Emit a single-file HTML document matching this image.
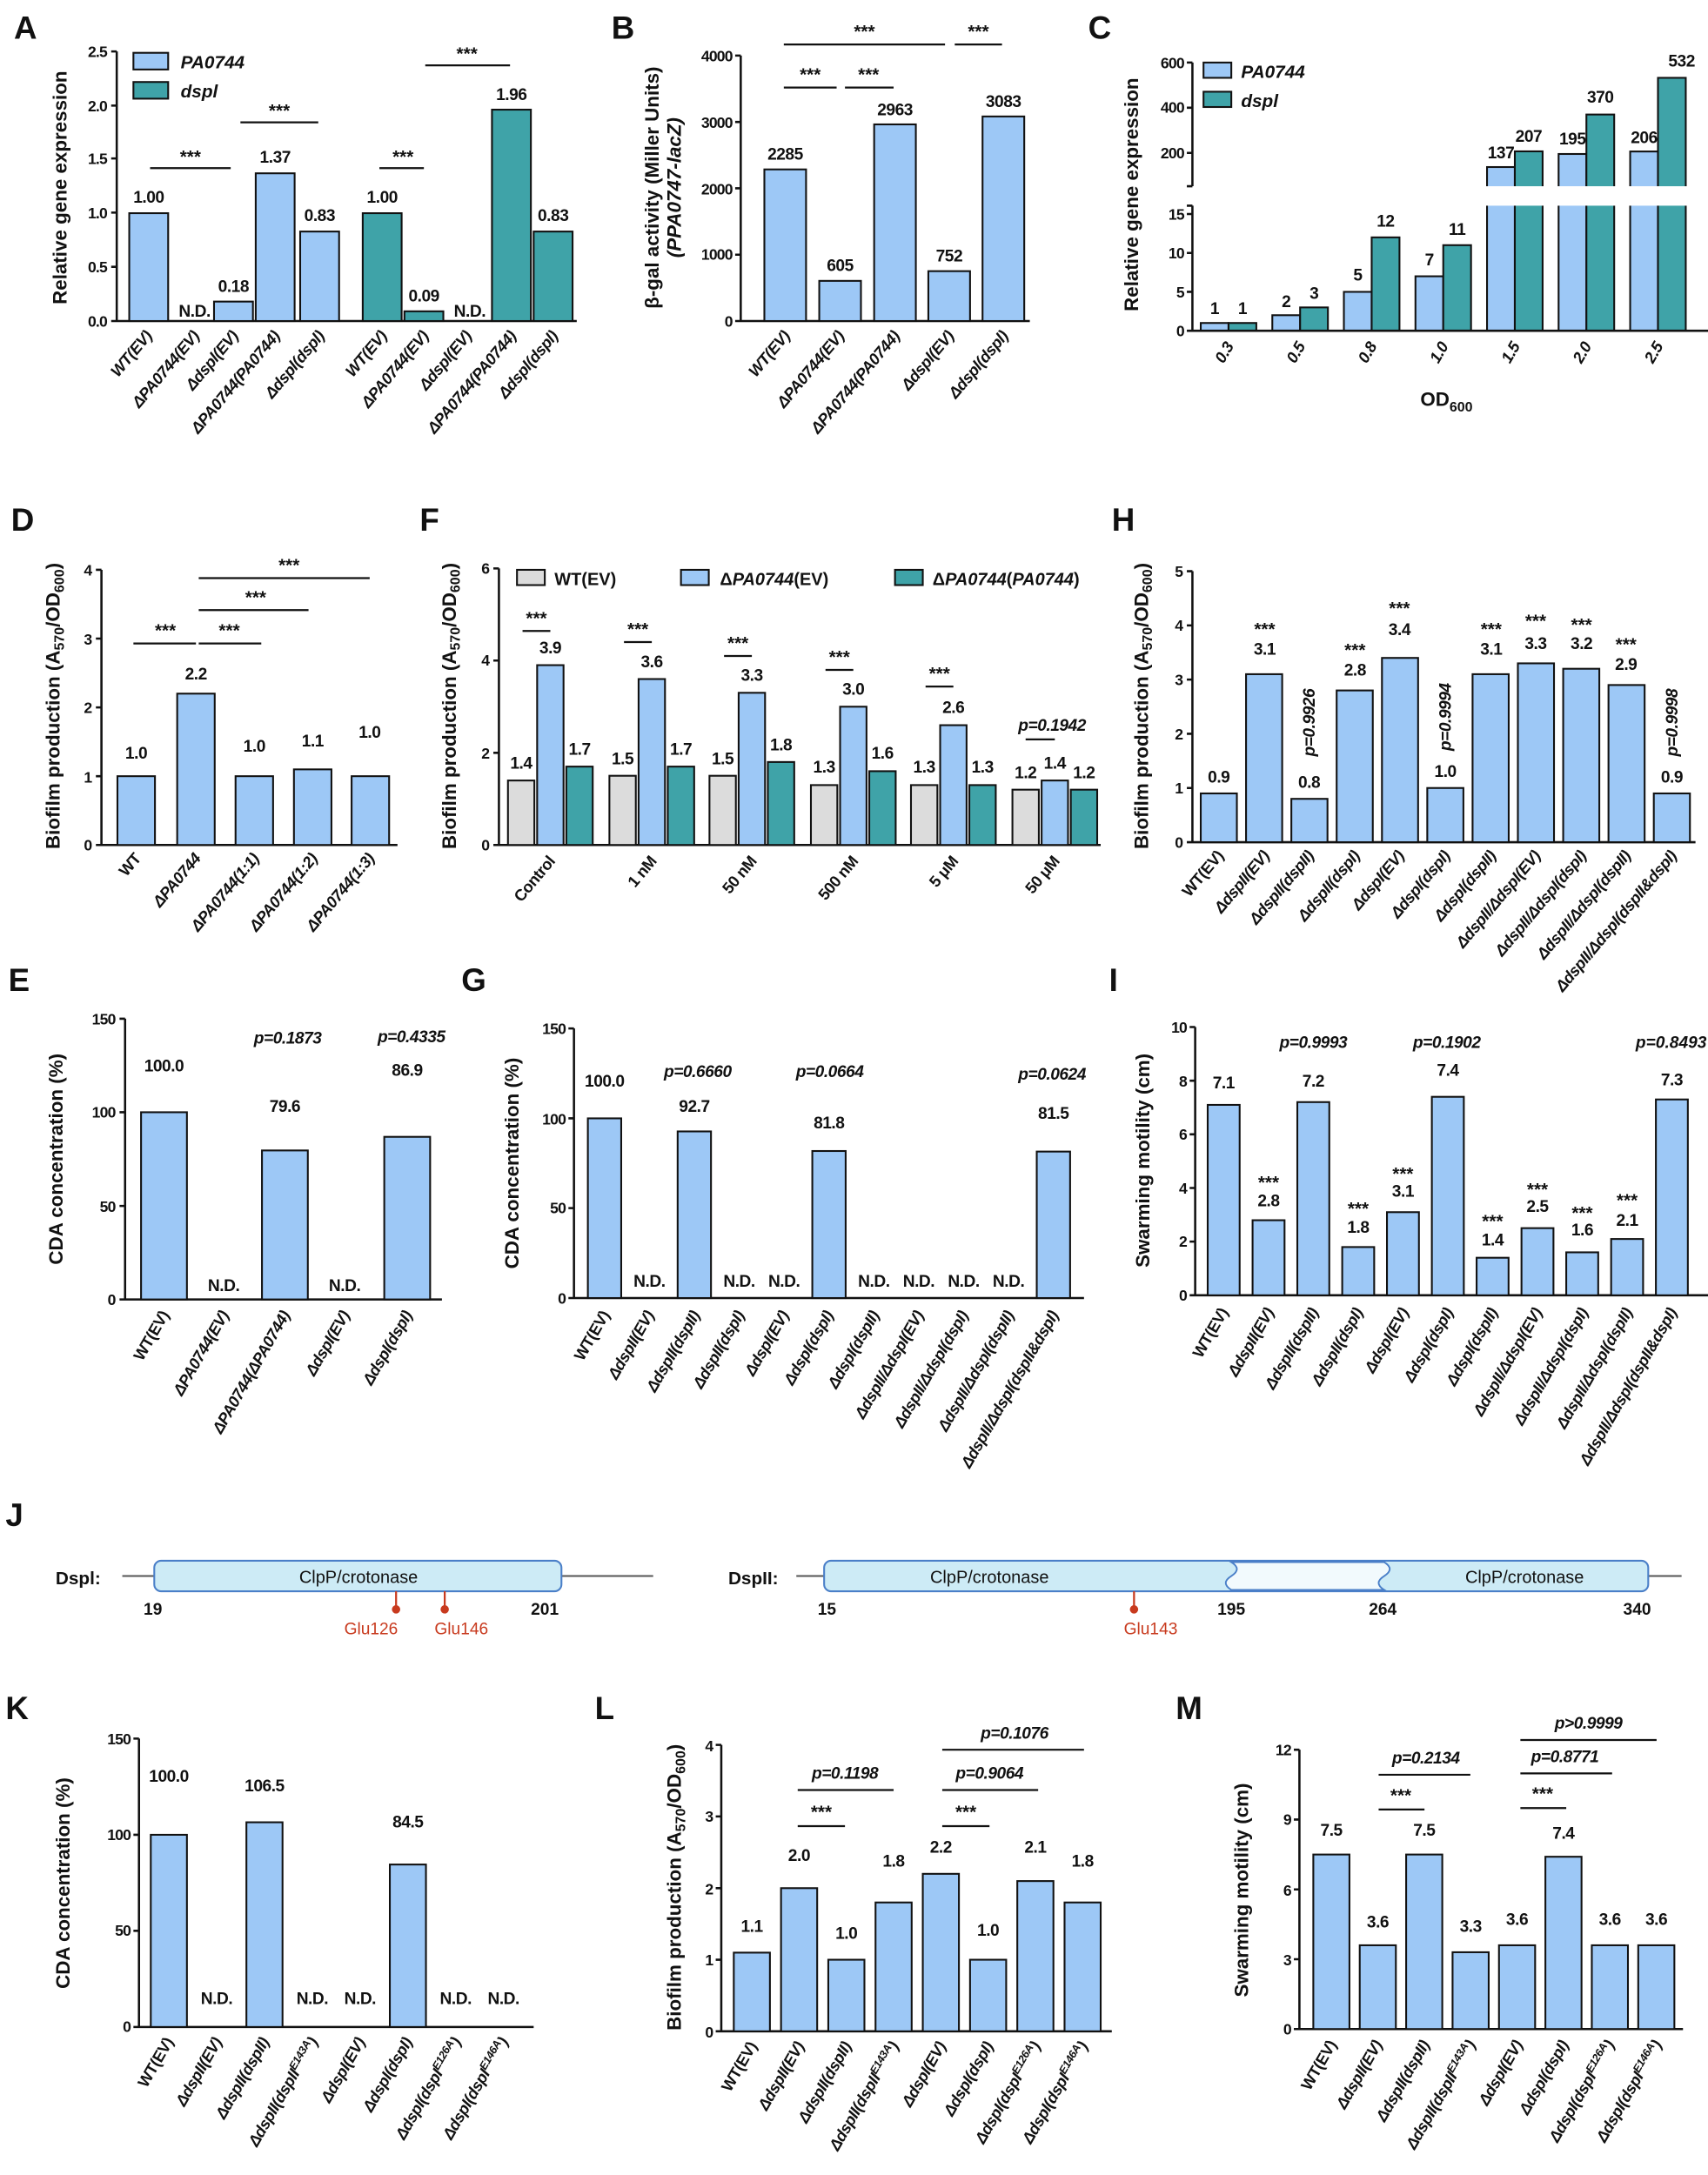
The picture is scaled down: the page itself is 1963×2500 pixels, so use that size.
<!DOCTYPE html>
<html><head><meta charset="utf-8"><style>
html,body{margin:0;padding:0;background:#fff}
svg{display:block}
text{font-family:"Liberation Sans",sans-serif;font-weight:bold;fill:#111}
.bb{fill:#9DC8F6;stroke:#111;stroke-width:1.3}
.tb{fill:#3FA3A8;stroke:#111;stroke-width:1.3}
.gb{fill:#DCDCDC;stroke:#111;stroke-width:1.3}
.ax{stroke:#111;stroke-width:1.6;fill:none}
.v{font-size:12px;text-anchor:middle;letter-spacing:-0.3px}
.t{font-size:11px;text-anchor:end;letter-spacing:-0.5px}
.x{font-size:11.5px;text-anchor:end;font-style:italic;letter-spacing:-0.3px}
.y{font-size:14px;text-anchor:middle}
.L{font-size:23px}
.s{font-size:13px;text-anchor:middle}
.ln{stroke:#111;stroke-width:1.4}
</style></head><body>
<svg width="1963" height="2500" viewBox="0 0 1229 1565" preserveAspectRatio="none" xmlns="http://www.w3.org/2000/svg">
<rect width="1229" height="1565" fill="#fff"/>
<!-- ===== A ===== -->
<text class="L" x="10" y="28">A</text>
<text class="y" transform="translate(48,135) rotate(-90)">Relative gene expression</text>
<path class="ax" d="M84,37V231H415M80,37H84M80,76H84M80,114H84M80,153H84M80,192H84M80,231H84"/>
<text class="t" x="77" y="41">2.5</text><text class="t" x="77" y="80">2.0</text><text class="t" x="77" y="118">1.5</text><text class="t" x="77" y="157">1.0</text><text class="t" x="77" y="196">0.5</text><text class="t" x="77" y="235">0.0</text>
<rect class="bb" x="93" y="153.4" width="28" height="77.6"/><rect class="bb" x="154" y="217" width="28" height="14"/><rect class="bb" x="184" y="124.7" width="28" height="106.3"/><rect class="bb" x="216" y="166.6" width="28" height="64.4"/>
<rect class="tb" x="261" y="153.4" width="28" height="77.6"/><rect class="tb" x="291" y="224" width="28" height="7"/><rect class="tb" x="354" y="78.9" width="28" height="152.1"/><rect class="tb" x="384" y="166.6" width="28" height="64.4"/>
<text class="v" x="107" y="146">1.00</text><text class="v" x="140" y="228">N.D.</text><text class="v" x="168" y="210">0.18</text><text class="v" x="198" y="117">1.37</text><text class="v" x="230" y="159">0.83</text>
<text class="v" x="275" y="146">1.00</text><text class="v" x="305" y="217">0.09</text><text class="v" x="338" y="228">N.D.</text><text class="v" x="368" y="72">1.96</text><text class="v" x="398" y="159">0.83</text>
<rect class="bb" x="96" y="38" width="25" height="12"/><text x="130" y="49" style="font-size:13px;font-style:italic">PA0744</text>
<rect class="tb" x="96" y="59" width="25" height="12"/><text x="130" y="70" style="font-size:13px;font-style:italic">dspl</text>
<line class="ln" x1="108" y1="121" x2="166" y2="121"/><text class="s" x="137" y="117">***</text>
<line class="ln" x1="173" y1="88" x2="229" y2="88"/><text class="s" x="201" y="84">***</text>
<line class="ln" x1="273" y1="121" x2="305" y2="121"/><text class="s" x="290" y="117">***</text>
<line class="ln" x1="306" y1="47" x2="367" y2="47"/><text class="s" x="336" y="43">***</text>
<text class="x" transform="translate(110,242) rotate(-50)">WT(EV)</text><text class="x" transform="translate(144,242) rotate(-50)">ΔPA0744(EV)</text><text class="x" transform="translate(172,242) rotate(-50)">Δdspl(EV)</text><text class="x" transform="translate(202,242) rotate(-50)">ΔPA0744(PA0744)</text><text class="x" transform="translate(234,242) rotate(-50)">Δdspl(dspl)</text>
<text class="x" transform="translate(279,242) rotate(-50)">WT(EV)</text><text class="x" transform="translate(309,242) rotate(-50)">ΔPA0744(EV)</text><text class="x" transform="translate(340,242) rotate(-50)">Δdspl(EV)</text><text class="x" transform="translate(372,242) rotate(-50)">ΔPA0744(PA0744)</text><text class="x" transform="translate(402,242) rotate(-50)">Δdspl(dspl)</text>
<!-- ===== B ===== -->
<text class="L" x="440" y="28">B</text>
<text class="y" transform="translate(474,135) rotate(-90)">β-gal activity (Miller Units)</text>
<text class="y" transform="translate(490,135) rotate(-90)" style="font-style:italic">(PPA0747-lacZ)</text>
<path class="ax" d="M533,40V231H741M529,40H533M529,87.75H533M529,135.5H533M529,183.25H533M529,231H533"/>
<text class="t" x="527" y="44">4000</text><text class="t" x="527" y="92">3000</text><text class="t" x="527" y="140">2000</text><text class="t" x="527" y="187">1000</text><text class="t" x="527" y="235">0</text>
<rect class="bb" x="550" y="121.9" width="30" height="109.1"/><rect class="bb" x="589.5" y="202.1" width="30" height="28.9"/><rect class="bb" x="629" y="89.5" width="30" height="141.5"/><rect class="bb" x="668" y="195.1" width="30" height="35.9"/><rect class="bb" x="707" y="83.8" width="30" height="147.2"/>
<text class="v" x="565" y="115">2285</text><text class="v" x="604.5" y="195">605</text><text class="v" x="644" y="83">2963</text><text class="v" x="683" y="188">752</text><text class="v" x="722" y="77">3083</text>
<line class="ln" x1="564" y1="63" x2="602" y2="63"/><text class="s" x="583" y="58">***</text>
<line class="ln" x1="608" y1="63" x2="643" y2="63"/><text class="s" x="625" y="58">***</text>
<line class="ln" x1="564" y1="32" x2="680" y2="32"/><text class="s" x="622" y="27">***</text>
<line class="ln" x1="687" y1="32" x2="721" y2="32"/><text class="s" x="704" y="27">***</text>
<text class="x" transform="translate(569,242) rotate(-50)">WT(EV)</text><text class="x" transform="translate(608,242) rotate(-50)">ΔPA0744(EV)</text><text class="x" transform="translate(648,242) rotate(-50)">ΔPA0744(PA0744)</text><text class="x" transform="translate(687,242) rotate(-50)">Δdspl(EV)</text><text class="x" transform="translate(726,242) rotate(-50)">Δdspl(dspl)</text>
<!-- ===== C ===== -->
<text class="L" x="783" y="28">C</text>
<text class="y" transform="translate(819,140) rotate(-90)">Relative gene expression</text>
<rect class="bb" x="864" y="232.4" width="20" height="5.6"/><rect class="tb" x="884" y="232.4" width="20" height="5.6"/>
<rect class="bb" x="915.5" y="226.8" width="20" height="11.2"/><rect class="tb" x="935.5" y="221.2" width="20" height="16.8"/>
<rect class="bb" x="967" y="210" width="20" height="28"/><rect class="tb" x="987" y="170.8" width="20" height="67.2"/>
<rect class="bb" x="1018.5" y="198.8" width="20" height="39.2"/><rect class="tb" x="1038.5" y="176.4" width="20" height="61.6"/>
<rect class="bb" x="1070" y="120.2" width="20" height="117.8"/><rect class="tb" x="1090" y="108.9" width="20" height="129.1"/>
<rect class="bb" x="1121.5" y="110.8" width="20" height="127.2"/><rect class="tb" x="1141.5" y="82.4" width="20" height="155.6"/>
<rect class="bb" x="1173" y="109" width="20" height="129"/><rect class="tb" x="1193" y="56" width="20" height="182"/>
<rect x="1065" y="134" width="164" height="14" fill="#fff"/>
<path class="ax" d="M858,45V134M858,148V238H1229M854,45H858M854,77.5H858M854,110H858M854,134H858M854,148H858M854,154H858M854,182H858M854,210H858M854,238H858"/>
<text class="t" x="852" y="49">600</text><text class="t" x="852" y="81">400</text><text class="t" x="852" y="114">200</text><text class="t" x="852" y="158">15</text><text class="t" x="852" y="186">10</text><text class="t" x="852" y="214">5</text><text class="t" x="852" y="242">0</text>
<text class="v" x="874" y="226">1</text><text class="v" x="894" y="226">1</text><text class="v" x="925.5" y="221">2</text><text class="v" x="945.5" y="215">3</text><text class="v" x="977" y="202">5</text><text class="v" x="997" y="163">12</text><text class="v" x="1028.5" y="191">7</text><text class="v" x="1048.5" y="169">11</text>
<text class="v" x="1080" y="114">137</text><text class="v" x="1100" y="102">207</text><text class="v" x="1131.5" y="104">195</text><text class="v" x="1151.5" y="74">370</text><text class="v" x="1183" y="103">206</text><text class="v" x="1210" y="48">532</text>
<rect class="bb" x="866" y="45" width="20" height="11"/><text x="893" y="56" style="font-size:13px;font-style:italic">PA0744</text>
<rect class="tb" x="866" y="66" width="20" height="11"/><text x="893" y="77" style="font-size:13px;font-style:italic">dspl</text>
<text class="x" transform="translate(888,249) rotate(-60)" style="font-style:italic">0.3</text><text class="x" transform="translate(939.5,249) rotate(-60)">0.5</text><text class="x" transform="translate(991,249) rotate(-60)">0.8</text><text class="x" transform="translate(1042.5,249) rotate(-60)">1.0</text><text class="x" transform="translate(1094,249) rotate(-60)">1.5</text><text class="x" transform="translate(1145.5,249) rotate(-60)">2.0</text><text class="x" transform="translate(1197,249) rotate(-60)">2.5</text>
<text x="1022" y="292" style="font-size:14px">OD<tspan style="font-size:10px" dy="4">600</tspan></text>
<!-- ===== D ===== -->
<text class="L" x="8" y="382">D</text>
<text class="y" transform="translate(43,508) rotate(-90)">Biofilm production (A<tspan style="font-size:10px" dy="3">570</tspan><tspan dy="-3">/OD</tspan><tspan style="font-size:10px" dy="3">600</tspan><tspan dy="-3">)</tspan></text>
<path class="ax" d="M73,410V608H286M69,410H73M69,459.5H73M69,509H73M69,558.5H73M69,608H73"/>
<text class="t" x="66" y="414">4</text><text class="t" x="66" y="464">3</text><text class="t" x="66" y="513">2</text><text class="t" x="66" y="563">1</text><text class="t" x="66" y="612">0</text>
<rect class="bb" x="84.5" y="558.5" width="27" height="49.5"/><rect class="bb" x="127.5" y="499.1" width="27" height="108.9"/><rect class="bb" x="169.5" y="558.5" width="27" height="49.5"/><rect class="bb" x="211.5" y="553.6" width="27" height="54.4"/><rect class="bb" x="253" y="558.5" width="27" height="49.5"/>
<text class="v" x="98" y="546">1.0</text><text class="v" x="141" y="489">2.2</text><text class="v" x="183" y="541">1.0</text><text class="v" x="225" y="537">1.1</text><text class="v" x="266" y="531">1.0</text>
<line class="ln" x1="96" y1="463" x2="141" y2="463"/><text class="s" x="119" y="458">***</text>
<line class="ln" x1="143" y1="463" x2="188" y2="463"/><text class="s" x="165" y="458">***</text>
<line class="ln" x1="143" y1="439" x2="222" y2="439"/><text class="s" x="184" y="434">***</text>
<line class="ln" x1="143" y1="416" x2="266" y2="416"/><text class="s" x="208" y="411">***</text>
<text class="x" transform="translate(102,618) rotate(-50)" style="font-style:normal">WT</text><text class="x" transform="translate(145,618) rotate(-50)">ΔPA0744</text><text class="x" transform="translate(187,618) rotate(-50)">ΔPA0744(1:1)</text><text class="x" transform="translate(229,618) rotate(-50)">ΔPA0744(1:2)</text><text class="x" transform="translate(270,618) rotate(-50)">ΔPA0744(1:3)</text>
<!-- ===== F ===== -->
<text class="L" x="302" y="382">F</text>
<text class="y" transform="translate(328,508) rotate(-90)">Biofilm production (A<tspan style="font-size:10px" dy="3">570</tspan><tspan dy="-3">/OD</tspan><tspan style="font-size:10px" dy="3">600</tspan><tspan dy="-3">)</tspan></text>
<path class="ax" d="M359,409V608H792M355,409H359M355,475.3H359M355,541.7H359M355,608H359"/>
<text class="t" x="352" y="413">6</text><text class="t" x="352" y="479">4</text><text class="t" x="352" y="546">2</text><text class="t" x="352" y="612">0</text>
<rect class="gb" x="365.5" y="561.6" width="19" height="46.4"/><rect class="bb" x="386.5" y="478.6" width="19" height="129.4"/><rect class="tb" x="407.5" y="551.6" width="19" height="56.4"/>
<rect class="gb" x="438.5" y="558.2" width="19" height="49.8"/><rect class="bb" x="459.5" y="488.6" width="19" height="119.4"/><rect class="tb" x="480.5" y="551.6" width="19" height="56.4"/>
<rect class="gb" x="510.5" y="558.2" width="19" height="49.8"/><rect class="bb" x="531.5" y="498.5" width="19" height="109.5"/><rect class="tb" x="552.5" y="548.3" width="19" height="59.7"/>
<rect class="gb" x="583.5" y="564.9" width="19" height="43.1"/><rect class="bb" x="604.5" y="508.5" width="19" height="99.5"/><rect class="tb" x="625.5" y="554.9" width="19" height="53.1"/>
<rect class="gb" x="655.5" y="564.9" width="19" height="43.1"/><rect class="bb" x="676.5" y="521.8" width="19" height="86.2"/><rect class="tb" x="697.5" y="564.9" width="19" height="43.1"/>
<rect class="gb" x="728.5" y="568.2" width="19" height="39.8"/><rect class="bb" x="749.5" y="561.6" width="19" height="46.4"/><rect class="tb" x="770.5" y="568.2" width="19" height="39.8"/>
<text class="v" x="375" y="553">1.4</text><text class="v" x="396" y="470">3.9</text><text class="v" x="417" y="543">1.7</text>
<text class="v" x="448" y="550">1.5</text><text class="v" x="469" y="480">3.6</text><text class="v" x="490" y="543">1.7</text>
<text class="v" x="520" y="550">1.5</text><text class="v" x="541" y="490">3.3</text><text class="v" x="562" y="540">1.8</text>
<text class="v" x="593" y="556">1.3</text><text class="v" x="614" y="500">3.0</text><text class="v" x="635" y="546">1.6</text>
<text class="v" x="665" y="556">1.3</text><text class="v" x="686" y="513">2.6</text><text class="v" x="707" y="556">1.3</text>
<text class="v" x="738" y="560">1.2</text><text class="v" x="759" y="553">1.4</text><text class="v" x="780" y="560">1.2</text>
<line class="ln" x1="376" y1="454" x2="396" y2="454"/><text class="s" x="386" y="449">***</text>
<line class="ln" x1="449" y1="462" x2="469" y2="462"/><text class="s" x="459" y="457">***</text>
<line class="ln" x1="521" y1="472" x2="541" y2="472"/><text class="s" x="531" y="467">***</text>
<line class="ln" x1="594" y1="482" x2="614" y2="482"/><text class="s" x="604" y="477">***</text>
<line class="ln" x1="666" y1="494" x2="686" y2="494"/><text class="s" x="676" y="489">***</text>
<line class="ln" x1="738" y1="532" x2="759" y2="532"/><text class="v" x="757" y="526" style="font-style:italic">p=0.1942</text>
<rect class="gb" x="372" y="410" width="20" height="11"/><text x="399" y="421" style="font-size:12.5px">WT(EV)</text>
<rect class="bb" x="490" y="410" width="20" height="11"/><text x="518" y="421" style="font-size:12.5px">Δ<tspan font-style="italic">PA0744</tspan>(EV)</text>
<rect class="tb" x="644" y="410" width="20" height="11"/><text x="671" y="421" style="font-size:12.5px">Δ<tspan font-style="italic">PA0744</tspan>(<tspan font-style="italic">PA0744</tspan>)</text>
<text class="x" transform="translate(400,620) rotate(-50)" style="font-style:normal">Control</text><text class="x" transform="translate(473,620) rotate(-50)" style="font-style:normal">1 nM</text><text class="x" transform="translate(545,620) rotate(-50)" style="font-style:normal">50 nM</text><text class="x" transform="translate(618,620) rotate(-50)" style="font-style:normal">500 nM</text><text class="x" transform="translate(690,620) rotate(-50)" style="font-style:normal">5 μM</text><text class="x" transform="translate(763,620) rotate(-50)" style="font-style:normal">50 μM</text>
<!-- ===== H ===== -->
<text class="L" x="800" y="382">H</text>
<text class="y" transform="translate(826,508) rotate(-90)">Biofilm production (A<tspan style="font-size:10px" dy="3">570</tspan><tspan dy="-3">/OD</tspan><tspan style="font-size:10px" dy="3">600</tspan><tspan dy="-3">)</tspan></text>
<path class="ax" d="M858,411V606H1220M854,411H858M854,450H858M854,489H858M854,528H858M854,567H858M854,606H858"/>
<text class="t" x="851" y="415">5</text><text class="t" x="851" y="454">4</text><text class="t" x="851" y="493">3</text><text class="t" x="851" y="532">2</text><text class="t" x="851" y="571">1</text><text class="t" x="851" y="610">0</text>
<rect class="bb" x="864" y="570.9" width="26" height="35.1"/><rect class="bb" x="896.6" y="485.1" width="26" height="120.9"/><rect class="bb" x="929.2" y="574.8" width="26" height="31.2"/><rect class="bb" x="961.8" y="496.8" width="26" height="109.2"/><rect class="bb" x="994.4" y="473.4" width="26" height="132.6"/><rect class="bb" x="1027" y="567" width="26" height="39"/><rect class="bb" x="1059.6" y="485.1" width="26" height="120.9"/><rect class="bb" x="1092.2" y="477.3" width="26" height="128.7"/><rect class="bb" x="1124.8" y="481.2" width="26" height="124.8"/><rect class="bb" x="1157.4" y="492.9" width="26" height="113.1"/><rect class="bb" x="1190" y="570.9" width="26" height="35.1"/>
<text class="v" x="877" y="563">0.9</text><text class="v" x="910" y="471">3.1</text><text class="v" x="942" y="567">0.8</text><text class="v" x="975" y="486">2.8</text><text class="v" x="1007" y="457">3.4</text><text class="v" x="1040" y="559">1.0</text><text class="v" x="1073" y="471">3.1</text><text class="v" x="1105" y="467">3.3</text><text class="v" x="1138" y="467">3.2</text><text class="v" x="1170" y="482">2.9</text><text class="v" x="1203" y="563">0.9</text>
<text class="s" x="910" y="457">***</text><text class="s" x="975" y="472">***</text><text class="s" x="1007" y="442">***</text><text class="s" x="1073" y="457">***</text><text class="s" x="1105" y="451">***</text><text class="s" x="1138" y="454">***</text><text class="s" x="1170" y="468">***</text>
<text class="v" transform="translate(946,520) rotate(-90)" style="font-style:italic">p=0.9926</text><text class="v" transform="translate(1044,516) rotate(-90)" style="font-style:italic">p=0.9994</text><text class="v" transform="translate(1207,520) rotate(-90)" style="font-style:italic">p=0.9998</text>
<text class="x" transform="translate(881,616) rotate(-50)" style="font-style:normal">WT(EV)</text><text class="x" transform="translate(914,616) rotate(-50)">ΔdspII(EV)</text><text class="x" transform="translate(946,616) rotate(-50)">ΔdspII(dspII)</text><text class="x" transform="translate(979,616) rotate(-50)">ΔdspII(dspI)</text><text class="x" transform="translate(1011,616) rotate(-50)">ΔdspI(EV)</text><text class="x" transform="translate(1044,616) rotate(-50)">ΔdspI(dspI)</text><text class="x" transform="translate(1077,616) rotate(-50)">ΔdspI(dspII)</text><text class="x" transform="translate(1109,616) rotate(-50)">ΔdspII/ΔdspI(EV)</text><text class="x" transform="translate(1142,616) rotate(-50)">ΔdspII/ΔdspI(dspI)</text><text class="x" transform="translate(1174,616) rotate(-50)">ΔdspII/ΔdspI(dspII)</text><text class="x" transform="translate(1207,616) rotate(-50)">ΔdspII/ΔdspI(dspII&amp;dspI)</text>
<!-- ===== E ===== -->
<text class="L" x="6" y="713">E</text>
<text class="y" transform="translate(45,834) rotate(-90)">CDA concentration (%)</text>
<path class="ax" d="M90,733V935H318M86,733H90M86,800.3H90M86,867.7H90M86,935H90"/>
<text class="t" x="83" y="737">150</text><text class="t" x="83" y="804">100</text><text class="t" x="83" y="872">50</text><text class="t" x="83" y="939">0</text>
<rect class="bb" x="101.5" y="800.3" width="33" height="134.7"/><rect class="bb" x="188.5" y="827.8" width="33" height="107.2"/><rect class="bb" x="276.5" y="818" width="33" height="117"/>
<text class="v" x="118" y="771">100.0</text><text class="v" x="161" y="929">N.D.</text><text class="v" x="205" y="800">79.6</text><text class="v" x="248" y="929">N.D.</text><text class="v" x="293" y="774">86.9</text>
<text class="v" x="207" y="751" style="font-style:italic">p=0.1873</text><text class="v" x="296" y="750" style="font-style:italic">p=0.4335</text>
<text class="x" transform="translate(122,946) rotate(-60)" style="font-style:normal">WT(EV)</text><text class="x" transform="translate(165,946) rotate(-60)">ΔPA0744(EV)</text><text class="x" transform="translate(209,946) rotate(-60)">ΔPA0744(ΔPA0744)</text><text class="x" transform="translate(252,946) rotate(-60)">ΔdspI(EV)</text><text class="x" transform="translate(297,946) rotate(-60)">ΔdspI(dspI)</text>
<!-- ===== G ===== -->
<text class="L" x="332" y="713">G</text>
<text class="y" transform="translate(373,837) rotate(-90)">CDA concentration (%)</text>
<path class="ax" d="M413,740V934H780M409,740H413M409,804.7H413M409,869.3H413M409,934H413"/>
<text class="t" x="407" y="744">150</text><text class="t" x="407" y="809">100</text><text class="t" x="407" y="873">50</text><text class="t" x="407" y="938">0</text>
<rect class="bb" x="423" y="804.7" width="24" height="129.3"/><rect class="bb" x="487.6" y="814.1" width="24" height="119.9"/><rect class="bb" x="584.5" y="828.2" width="24" height="105.8"/><rect class="bb" x="746" y="828.6" width="24" height="105.4"/>
<text class="v" x="435" y="782">100.0</text><text class="v" x="467.3" y="926">N.D.</text><text class="v" x="499.6" y="800">92.7</text><text class="v" x="531.9" y="926">N.D.</text><text class="v" x="564.2" y="926">N.D.</text><text class="v" x="596.5" y="812">81.8</text><text class="v" x="628.8" y="926">N.D.</text><text class="v" x="661.1" y="926">N.D.</text><text class="v" x="693.4" y="926">N.D.</text><text class="v" x="725.7" y="926">N.D.</text><text class="v" x="758" y="805">81.5</text>
<text class="v" x="502" y="775" style="font-style:italic">p=0.6660</text><text class="v" x="597" y="775" style="font-style:italic">p=0.0664</text><text class="v" x="757" y="777" style="font-style:italic">p=0.0624</text>
<text class="x" transform="translate(439,946) rotate(-60)" style="font-style:normal">WT(EV)</text><text class="x" transform="translate(471,946) rotate(-60)">ΔdspII(EV)</text><text class="x" transform="translate(504,946) rotate(-60)">ΔdspII(dspII)</text><text class="x" transform="translate(536,946) rotate(-60)">ΔdspII(dspI)</text><text class="x" transform="translate(568,946) rotate(-60)">ΔdspI(EV)</text><text class="x" transform="translate(600,946) rotate(-60)">ΔdspI(dspI)</text><text class="x" transform="translate(633,946) rotate(-60)">ΔdspI(dspII)</text><text class="x" transform="translate(665,946) rotate(-60)">ΔdspII/ΔdspI(EV)</text><text class="x" transform="translate(697,946) rotate(-60)">ΔdspII/ΔdspI(dspI)</text><text class="x" transform="translate(730,946) rotate(-60)">ΔdspII/ΔdspI(dspII)</text><text class="x" transform="translate(762,946) rotate(-60)">ΔdspII/ΔdspI(dspII&amp;dspI)</text>
<!-- ===== I ===== -->
<text class="L" x="798" y="713">I</text>
<text class="y" transform="translate(827,835) rotate(-90)">Swarming motility (cm)</text>
<path class="ax" d="M860,739V932H1229M856,739H860M856,777.6H860M856,816.2H860M856,854.8H860M856,893.4H860M856,932H860"/>
<text class="t" x="854" y="743">10</text><text class="t" x="854" y="782">8</text><text class="t" x="854" y="820">6</text><text class="t" x="854" y="859">4</text><text class="t" x="854" y="897">2</text><text class="t" x="854" y="936">0</text>
<rect class="bb" x="869" y="795" width="23" height="137"/><rect class="bb" x="901.3" y="878" width="23" height="54"/><rect class="bb" x="933.5" y="793" width="23" height="139"/><rect class="bb" x="965.8" y="897.3" width="23" height="34.7"/><rect class="bb" x="998" y="872.2" width="23" height="59.8"/><rect class="bb" x="1030.3" y="789.2" width="23" height="142.8"/><rect class="bb" x="1062.5" y="905" width="23" height="27"/><rect class="bb" x="1094.8" y="883.7" width="23" height="48.3"/><rect class="bb" x="1127" y="901.1" width="23" height="30.9"/><rect class="bb" x="1159.3" y="891.5" width="23" height="40.5"/><rect class="bb" x="1191.5" y="791.1" width="23" height="140.9"/>
<text class="v" x="880.5" y="783">7.1</text><text class="v" x="912.8" y="868">2.8</text><text class="v" x="945" y="782">7.2</text><text class="v" x="977.3" y="887">1.8</text><text class="v" x="1009.5" y="861">3.1</text><text class="v" x="1041.8" y="774">7.4</text><text class="v" x="1074" y="896">1.4</text><text class="v" x="1106.3" y="872">2.5</text><text class="v" x="1138.5" y="889">1.6</text><text class="v" x="1170.8" y="882">2.1</text><text class="v" x="1203" y="781">7.3</text>
<text class="s" x="912.8" y="855">***</text><text class="s" x="977.3" y="874">***</text><text class="s" x="1009.5" y="849">***</text><text class="s" x="1074" y="883">***</text><text class="s" x="1106.3" y="860">***</text><text class="s" x="1138.5" y="877">***</text><text class="s" x="1170.8" y="868">***</text>
<text class="v" x="945" y="754" style="font-style:italic">p=0.9993</text><text class="v" x="1041" y="754" style="font-style:italic">p=0.1902</text><text x="1228" y="754" style="font-size:12px;text-anchor:end;font-style:italic">p=0.8493</text>
<text class="x" transform="translate(884,944) rotate(-60)" style="font-style:normal">WT(EV)</text><text class="x" transform="translate(917,944) rotate(-60)">ΔdspII(EV)</text><text class="x" transform="translate(949,944) rotate(-60)">ΔdspII(dspII)</text><text class="x" transform="translate(981,944) rotate(-60)">ΔdspII(dspI)</text><text class="x" transform="translate(1014,944) rotate(-60)">ΔdspI(EV)</text><text class="x" transform="translate(1046,944) rotate(-60)">ΔdspI(dspI)</text><text class="x" transform="translate(1078,944) rotate(-60)">ΔdspI(dspII)</text><text class="x" transform="translate(1110,944) rotate(-60)">ΔdspII/ΔdspI(EV)</text><text class="x" transform="translate(1143,944) rotate(-60)">ΔdspII/ΔdspI(dspI)</text><text class="x" transform="translate(1175,944) rotate(-60)">ΔdspII/ΔdspI(dspII)</text><text class="x" transform="translate(1207,944) rotate(-60)">ΔdspII/ΔdspI(dspII&amp;dspI)</text>
<!-- ===== J ===== -->
<text class="L" x="4" y="1098">J</text>
<text x="40" y="1140" style="font-size:13px">Dspl:</text>
<line x1="88" y1="1134" x2="470" y2="1134" stroke="#555" stroke-width="1.2"/>
<rect x="111" y="1123" width="293" height="22" rx="5" fill="#CDEBF6" stroke="#4A7FC8" stroke-width="1.3"/>
<text x="258" y="1139" style="font-size:12.5px;text-anchor:middle;font-weight:normal">ClpP/crotonase</text>
<text x="110" y="1162" style="font-size:12px;text-anchor:middle">19</text><text x="392" y="1162" style="font-size:12px;text-anchor:middle">201</text>
<line x1="285" y1="1145" x2="285" y2="1158" stroke="#C83A1E" stroke-width="1.4"/><circle cx="285" cy="1158" r="3" fill="#C83A1E"/>
<line x1="320" y1="1145" x2="320" y2="1158" stroke="#C83A1E" stroke-width="1.4"/><circle cx="320" cy="1158" r="3" fill="#C83A1E"/>
<text x="267" y="1176" style="font-size:12px;text-anchor:middle;fill:#C83A1E;font-weight:normal">Glu126</text><text x="332" y="1176" style="font-size:12px;text-anchor:middle;fill:#C83A1E;font-weight:normal">Glu146</text>
<text x="524" y="1140" style="font-size:13px">DspII:</text>
<line x1="573" y1="1134" x2="1210" y2="1134" stroke="#555" stroke-width="1.2"/>
<rect x="593" y="1123" width="593" height="22" rx="5" fill="#CDEBF6" stroke="#4A7FC8" stroke-width="1.3"/>
<path d="M886,1124 Q894,1129 886,1134 Q878,1139 886,1144 L996,1144 Q988,1139 996,1134 Q1004,1129 996,1124Z" fill="#F2FAFD" stroke="#4A7FC8" stroke-width="1.2"/>
<text x="712" y="1139" style="font-size:12.5px;text-anchor:middle;font-weight:normal">ClpP/crotonase</text><text x="1097" y="1139" style="font-size:12.5px;text-anchor:middle;font-weight:normal">ClpP/crotonase</text>
<text x="595" y="1162" style="font-size:12px;text-anchor:middle">15</text><text x="886" y="1162" style="font-size:12px;text-anchor:middle">195</text><text x="995" y="1162" style="font-size:12px;text-anchor:middle">264</text><text x="1178" y="1162" style="font-size:12px;text-anchor:middle">340</text>
<line x1="816" y1="1145" x2="816" y2="1158" stroke="#C83A1E" stroke-width="1.4"/><circle cx="816" cy="1158" r="3" fill="#C83A1E"/>
<text x="828" y="1176" style="font-size:12px;text-anchor:middle;fill:#C83A1E;font-weight:normal">Glu143</text>
<!-- ===== K ===== -->
<text class="L" x="4" y="1237">K</text>
<text class="y" transform="translate(50,1355) rotate(-90)">CDA concentration (%)</text>
<path class="ax" d="M100,1251V1458.5H384M96,1251H100M96,1320.2H100M96,1389.3H100M96,1458.5H100"/>
<text class="t" x="94" y="1255">150</text><text class="t" x="94" y="1324">100</text><text class="t" x="94" y="1393">50</text><text class="t" x="94" y="1462">0</text>
<rect class="bb" x="108.5" y="1320.2" width="26" height="138.3"/><rect class="bb" x="177.3" y="1311.2" width="26" height="147.3"/><rect class="bb" x="280.5" y="1341.6" width="26" height="116.9"/>
<text class="v" x="121.5" y="1282">100.0</text><text class="v" x="155.9" y="1442">N.D.</text><text class="v" x="190.3" y="1289">106.5</text><text class="v" x="224.7" y="1442">N.D.</text><text class="v" x="259.1" y="1442">N.D.</text><text class="v" x="293.5" y="1315">84.5</text><text class="v" x="327.9" y="1442">N.D.</text><text class="v" x="362.3" y="1442">N.D.</text>
<text class="x" transform="translate(125,1469) rotate(-60)" style="font-style:normal">WT(EV)</text><text class="x" transform="translate(160,1469) rotate(-60)">ΔdspII(EV)</text><text class="x" transform="translate(194,1469) rotate(-60)">ΔdspII(dspII)</text><text class="x" transform="translate(229,1469) rotate(-60)">ΔdspII(dspII<tspan style="font-size:8px" dy="-4">E143A</tspan><tspan dy="4">)</tspan></text><text class="x" transform="translate(263,1469) rotate(-60)">ΔdspI(EV)</text><text class="x" transform="translate(297,1469) rotate(-60)">ΔdspI(dspI)</text><text class="x" transform="translate(332,1469) rotate(-60)">ΔdspI(dspI<tspan style="font-size:8px" dy="-4">E126A</tspan><tspan dy="4">)</tspan></text><text class="x" transform="translate(366,1469) rotate(-60)">ΔdspI(dspI<tspan style="font-size:8px" dy="-4">E146A</tspan><tspan dy="4">)</tspan></text>
<!-- ===== L ===== -->
<text class="L" x="428" y="1237">L</text>
<text class="y" transform="translate(490,1358) rotate(-90)">Biofilm production (A<tspan style="font-size:10px" dy="3">570</tspan><tspan dy="-3">/OD</tspan><tspan style="font-size:10px" dy="3">600</tspan><tspan dy="-3">)</tspan></text>
<path class="ax" d="M519,1255.5V1461.6H800M515,1255.5H519M515,1307H519M515,1358.6H519M515,1410.1H519M515,1461.6H519"/>
<text class="t" x="513" y="1260">4</text><text class="t" x="513" y="1311">3</text><text class="t" x="513" y="1363">2</text><text class="t" x="513" y="1414">1</text><text class="t" x="513" y="1466">0</text>
<rect class="bb" x="528" y="1405" width="26" height="56.6"/><rect class="bb" x="562" y="1358.6" width="26" height="103"/><rect class="bb" x="596" y="1410.1" width="26" height="51.5"/><rect class="bb" x="630" y="1368.9" width="26" height="92.7"/><rect class="bb" x="664" y="1348.3" width="26" height="113.3"/><rect class="bb" x="698" y="1410.1" width="26" height="51.5"/><rect class="bb" x="732" y="1353.5" width="26" height="108.1"/><rect class="bb" x="766" y="1368.9" width="26" height="92.7"/>
<text class="v" x="541" y="1390">1.1</text><text class="v" x="575" y="1339">2.0</text><text class="v" x="609" y="1395">1.0</text><text class="v" x="643" y="1343">1.8</text><text class="v" x="677" y="1333">2.2</text><text class="v" x="711" y="1393">1.0</text><text class="v" x="745" y="1333">2.1</text><text class="v" x="779" y="1343">1.8</text>
<line class="ln" x1="574" y1="1314" x2="608" y2="1314"/><text class="s" x="591" y="1308">***</text>
<line class="ln" x1="574" y1="1288" x2="643" y2="1288"/><text class="v" x="608" y="1280" style="font-style:italic">p=0.1198</text>
<line class="ln" x1="678" y1="1314" x2="712" y2="1314"/><text class="s" x="695" y="1308">***</text>
<line class="ln" x1="678" y1="1288" x2="747" y2="1288"/><text class="v" x="712" y="1280" style="font-style:italic">p=0.9064</text>
<line class="ln" x1="678" y1="1259" x2="780" y2="1259"/><text class="v" x="730" y="1251" style="font-style:italic">p=0.1076</text>
<text class="x" transform="translate(545,1472) rotate(-60)" style="font-style:normal">WT(EV)</text><text class="x" transform="translate(579,1472) rotate(-60)">ΔdspII(EV)</text><text class="x" transform="translate(613,1472) rotate(-60)">ΔdspII(dspII)</text><text class="x" transform="translate(647,1472) rotate(-60)">ΔdspII(dspII<tspan style="font-size:8px" dy="-4">E143A</tspan><tspan dy="4">)</tspan></text><text class="x" transform="translate(681,1472) rotate(-60)">ΔdspI(EV)</text><text class="x" transform="translate(715,1472) rotate(-60)">ΔdspI(dspI)</text><text class="x" transform="translate(749,1472) rotate(-60)">ΔdspI(dspI<tspan style="font-size:8px" dy="-4">E126A</tspan><tspan dy="4">)</tspan></text><text class="x" transform="translate(783,1472) rotate(-60)">ΔdspI(dspI<tspan style="font-size:8px" dy="-4">E146A</tspan><tspan dy="4">)</tspan></text>
<!-- ===== M ===== -->
<text class="L" x="846" y="1237">M</text>
<text class="y" transform="translate(898,1360) rotate(-90)">Swarming motility (cm)</text>
<path class="ax" d="M935,1259V1460H1211M931,1259H935M931,1309.25H935M931,1359.5H935M931,1409.75H935M931,1460H935"/>
<text class="t" x="929" y="1263">12</text><text class="t" x="929" y="1313">9</text><text class="t" x="929" y="1364">6</text><text class="t" x="929" y="1414">3</text><text class="t" x="929" y="1464">0</text>
<rect class="bb" x="945" y="1334.4" width="26" height="125.6"/><rect class="bb" x="978.4" y="1399.7" width="26" height="60.3"/><rect class="bb" x="1011.8" y="1334.4" width="26" height="125.6"/><rect class="bb" x="1045.2" y="1404.7" width="26" height="55.3"/><rect class="bb" x="1078.6" y="1399.7" width="26" height="60.3"/><rect class="bb" x="1112" y="1336" width="26" height="124"/><rect class="bb" x="1145.4" y="1399.7" width="26" height="60.3"/><rect class="bb" x="1178.8" y="1399.7" width="26" height="60.3"/>
<text class="v" x="958" y="1321">7.5</text><text class="v" x="991.4" y="1387">3.6</text><text class="v" x="1024.8" y="1321">7.5</text><text class="v" x="1058.2" y="1390">3.3</text><text class="v" x="1091.6" y="1385">3.6</text><text class="v" x="1125" y="1323">7.4</text><text class="v" x="1158.4" y="1385">3.6</text><text class="v" x="1191.8" y="1385">3.6</text>
<line class="ln" x1="992" y1="1302" x2="1025" y2="1302"/><text class="s" x="1008" y="1296">***</text>
<line class="ln" x1="992" y1="1277" x2="1058" y2="1277"/><text class="v" x="1026" y="1269" style="font-style:italic">p=0.2134</text>
<line class="ln" x1="1094" y1="1301" x2="1127" y2="1301"/><text class="s" x="1110" y="1295">***</text>
<line class="ln" x1="1094" y1="1276" x2="1160" y2="1276"/><text class="v" x="1126" y="1268" style="font-style:italic">p=0.8771</text>
<line class="ln" x1="1094" y1="1252" x2="1192" y2="1252"/><text class="v" x="1143" y="1244" style="font-style:italic">p&gt;0.9999</text>
<text class="x" transform="translate(962,1471) rotate(-60)" style="font-style:normal">WT(EV)</text><text class="x" transform="translate(995,1471) rotate(-60)">ΔdspII(EV)</text><text class="x" transform="translate(1029,1471) rotate(-60)">ΔdspII(dspII)</text><text class="x" transform="translate(1062,1471) rotate(-60)">ΔdspII(dspII<tspan style="font-size:8px" dy="-4">E143A</tspan><tspan dy="4">)</tspan></text><text class="x" transform="translate(1096,1471) rotate(-60)">ΔdspI(EV)</text><text class="x" transform="translate(1129,1471) rotate(-60)">ΔdspI(dspI)</text><text class="x" transform="translate(1162,1471) rotate(-60)">ΔdspI(dspI<tspan style="font-size:8px" dy="-4">E126A</tspan><tspan dy="4">)</tspan></text><text class="x" transform="translate(1196,1471) rotate(-60)">ΔdspI(dspI<tspan style="font-size:8px" dy="-4">E146A</tspan><tspan dy="4">)</tspan></text>
</svg>
</body></html>
